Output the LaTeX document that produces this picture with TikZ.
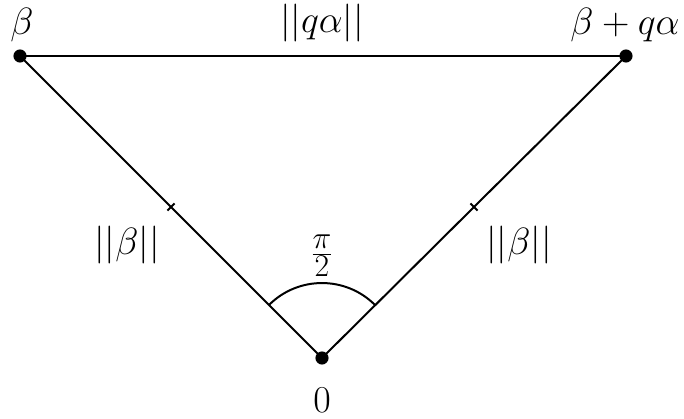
\documentclass[tikz,border=0pt]{standalone}
\usetikzlibrary{calc}
\begin{document}
\begin{tikzpicture}[x=0.655pt,y=0.655pt,
  dot/.style={circle,fill=black,inner sep=0pt,minimum size=8.6pt},
  edge/.style={line width=1.3pt},
  lbl/.style={inner sep=0pt,font=\Huge}]
\useasboundingbox (0,0) rectangle (684,419);
\node[dot] (b) at (20,363) {};
\node[dot] (c) at (626,363) {};
\node[dot] (o) at (322,61) {};
\draw[edge] (b.center) -- (c.center);
\draw[edge] (b.center) -- (o.center);
\draw[edge] (o.center) -- (c.center);
% ticks
\coordinate (ml) at ($(b.center)!0.5!(o.center)$);
\coordinate (mr) at ($(o.center)!0.5!(c.center)$);
\draw[edge] (ml) ++(3.6,3.6) -- ++(-7.2,-7.2);
\draw[edge] (mr) ++(3.6,-3.6) -- ++(-7.2,7.2);
% angle arc
\draw[edge] (o.center) ++(45:49.1pt) arc[start angle=45,end angle=135,radius=49.1pt];
% labels
\node[lbl,anchor=base] (lb) at (22,384) {$\beta$};
\node[lbl,anchor=base] (lq) at (322,386) {$||q\alpha||$};
\node[lbl,anchor=base] (lc) at (625,384) {$\beta+q\alpha$};
\node[lbl,anchor=base] (ll) at (127,164) {$||\beta||$};
\node[lbl,anchor=base] (lr) at (519,164) {$||\beta||$};
\node[lbl,anchor=center] (lp) at (322,163) {$\frac{\pi}{2}$};
\node[lbl,anchor=center] (l0) at (322,19) {$0$};
\end{tikzpicture}
\end{document}
